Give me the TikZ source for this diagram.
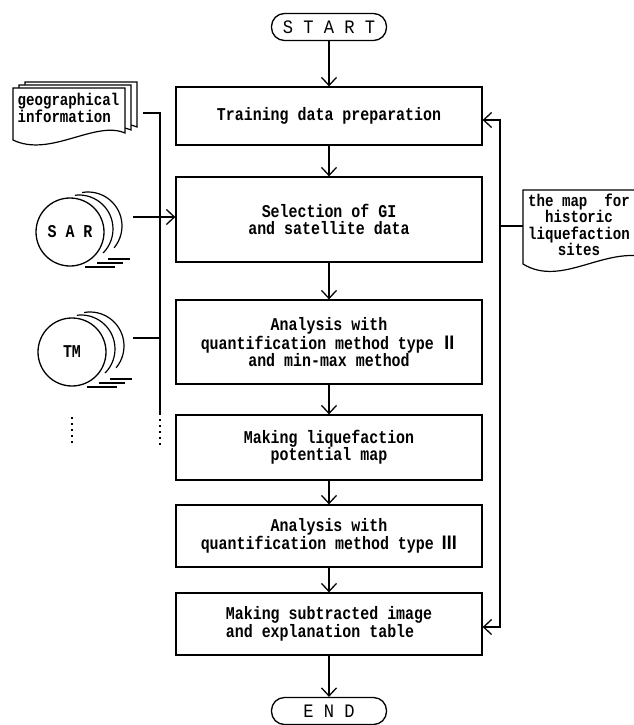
\documentclass[tikz,border=0pt]{standalone}
\usepackage{fontspec}
\setmainfont{Liberation Mono}[FakeStretch=0.83]
\newfontfamily\serifmono{Liberation Mono}[FakeStretch=0.9]
\newfontfamily\cjk{Noto Sans CJK JP}[FakeStretch=0.8]
\usetikzlibrary{arrows.meta,calc}
\begin{document}
\begin{tikzpicture}[x=1pt,y=-1pt, line width=1.3pt,
 box/.style={draw, minimum width=306pt, inner sep=0pt, align=center, font=\bfseries\fontsize{18}{17}\selectfont},
 term/.style={draw, rounded corners=13pt, minimum width=115pt, minimum height=27pt, inner sep=0pt, font=\serifmono\fontsize{19}{19}\selectfont},
 arr/.style={-{Straight Barb[length=8pt,width=15pt,line width=1.3pt]}},
 dblarr/.style={{Straight Barb[length=8pt,width=15pt,line width=1.3pt]}-{Straight Barb[length=8pt,width=15pt,line width=1.3pt]}},
 txt/.style={font=\bfseries\fontsize{17}{16.5}\selectfont, inner sep=0pt},
 disc/.style={draw, circle, minimum size=68pt, inner sep=0pt, font=\bfseries\fontsize{18}{18}\selectfont},
 dotline/.style={dash pattern=on 2pt off 4pt},
 page/.style={draw, fill=white, line width=1.2pt}
]
\useasboundingbox (0,0) rectangle (634,725);
\clip (0,0) rectangle (634,725);

% terminals and process boxes
\node[term] (start) at (329,27) {S T A R T};
\node[box, minimum height=58pt] (b1) at (329,116) {Training data preparation};
\node[box, minimum height=85pt] (b2) at (329,219.5) {Selection of GI\\and satellite data};
\node[box, minimum height=84pt] (b3) at (329,342) {Analysis with\\quantification method type {\cjk Ⅱ}\\and min-max method};
\node[box, minimum height=65pt] (b4) at (329,447.5) {Making liquefaction\\potential map};
\node[box, minimum height=62pt] (b5) at (329,536) {Analysis with\\quantification method type {\cjk Ⅲ}};
\node[box, minimum height=62pt, align=left, font=\bfseries\fontsize{18}{16}\selectfont] (b6) at (329,624) {Making subtracted image\\and explanation table};
\node[term] (end) at (329,711) {E N D};

\draw[arr] (start) -- (b1);
\draw[arr] (b1) -- (b2);
\draw[arr] (b2) -- (b3);
\draw[arr] (b3) -- (b4);
\draw[arr] (b4) -- (b5);
\draw[arr] (b5) -- (b6);
\draw[arr] (b6) -- (end);

% right feedback line
\coordinate (rt) at (500,120);
\coordinate (rb) at (500,627);
\draw[dblarr] (b1.east |- rt) -- (rt) -- (rb) -- (b6.east |- rb);

% map document
\draw[page] (523,190) -- (650,190) -- (650,258) .. controls (605,245) and (562,288) .. (523,264) -- cycle;
\node[txt, align=center] (map) at (579,225) {the map\ \ for\\historic\\liquefaction\\sites};
\coordinate (mapl) at (523,226);
\draw (rt |- mapl) -- (mapl);

% geographical information (stack of pages)
\draw[page] (25,82) -- (137,82) -- (137,127) .. controls (107,114) and (62,152) .. (25,134) -- cycle;
\draw[page] (19,85) -- (131,85) -- (131,130) .. controls (101,117) and (56,155) .. (19,137) -- cycle;
\draw[page] (13,88) -- (125,88) -- (125,133) .. controls (95,120) and (50,158) .. (13,140) -- cycle;
\node[txt, align=left, anchor=north west] (gi) at (17,93) {geographical\\information};

% left bus
\coordinate (gis) at (143,113);
\coordinate (bus1) at (160,113);
\coordinate (bus2) at (160,413);
\coordinate (bus3) at (160,445);
\draw (gis) -- (bus1) -- (bus2);
\draw[dotline] (bus2) -- (bus3);

% discs
\node[disc] (sar) at (70,232) {S A R};
\node[disc] (tm) at (72,352) {TM};
\foreach \n in {sar,tm} {
  \draw[line width=1.2pt] (\n) ++(9,-3) ++(-97:34) arc[start angle=-97,end angle=45,radius=34];
  \draw[line width=1.2pt] (\n) ++(18,-6) ++(-100:34) arc[start angle=-100,end angle=40,radius=34];
  \draw[line width=1.1pt] (\n) ++(38,27) -- ++(22,0);
  \draw[line width=1.1pt] (\n) ++(27,31) -- ++(26,0);
  \draw[line width=1.1pt] (\n) ++(15,35) -- ++(30,0);
}
\coordinate (sarr) at (133,217);
\draw[arr] (sarr) -- (sarr -| b2.west);
\coordinate (tmr) at (133,338);
\draw (tmr) -- (tmr -| bus1);
\coordinate (dt) at (72,417);
\coordinate (db) at (72,445);
\draw[dotline] (dt) -- (db);
\end{tikzpicture}
\end{document}
